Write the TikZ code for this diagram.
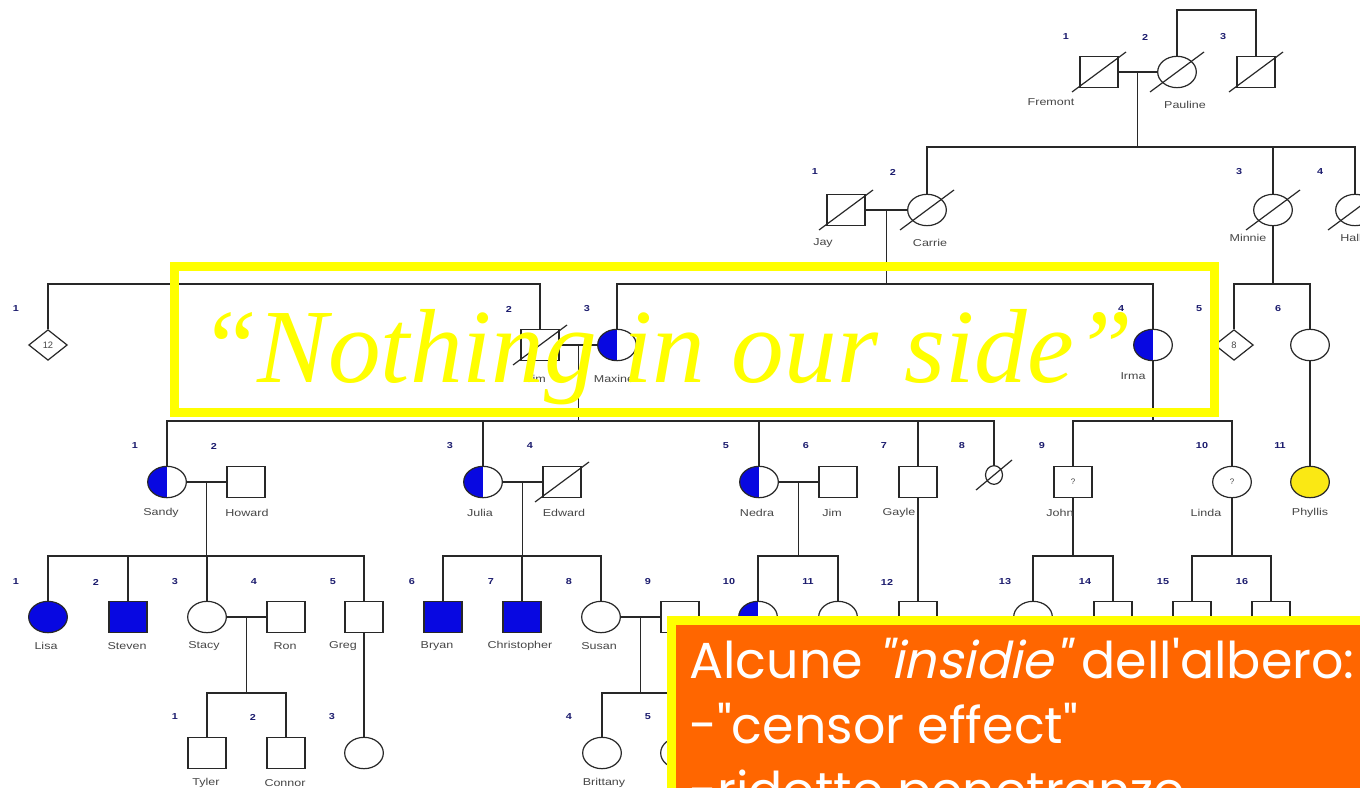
\documentclass[tikz,border=0pt]{standalone}
\usepackage{fontspec}
\setmainfont{Liberation Sans}
\newfontfamily\serifit{Liberation Serif}
\newfontfamily\boxfont{Poppins}[ItalicFont=Poppins, ItalicFeatures={FakeSlant=0.22}]
\usetikzlibrary{shapes.geometric}

\definecolor{linec}{RGB}{40,40,40}
\definecolor{pedblue}{RGB}{8,8,225}
\definecolor{lblc}{RGB}{70,70,70}
\definecolor{numc}{RGB}{28,28,110}
\definecolor{phyl}{RGB}{250,232,20}
\definecolor{hiyel}{RGB}{255,255,0}
\definecolor{boxor}{RGB}{255,102,0}

% horizontally widened text, as in the printed pedigree
\newcommand\wide[1]{\scalebox{1.25}[1]{#1}}
% diagonal stroke through a deceased individual
\newcommand\deceased[3]{\draw[link] ([shift={(-#2,#3)}]#1.center) -- ([shift={(#2,-#3)}]#1.center);}

\begin{document}
\begin{tikzpicture}[x=0.75pt,y=-0.75pt,
  link/.style={draw=linec, line width=0.9pt},
  ped/.style={draw=linec, line width=0.9pt, fill=white, inner sep=0pt},
  male/.style={ped, rectangle, minimum width=28.5pt, minimum height=23.25pt},
  female/.style={ped, ellipse, minimum width=29pt, minimum height=23.5pt},
  sexunk/.style={ped, diamond, minimum width=29pt, minimum height=23pt, font=\fontsize{7}{7}\selectfont, text=lblc},
  affected/.style={fill=pedblue},
  carrier/.style={path picture={\fill[pedblue] (path picture bounding box.north west) rectangle (path picture bounding box.south);}},
  query/.style={font=\fontsize{6}{6}\selectfont, text=lblc},
  num/.style={font=\bfseries\fontsize{6.5}{7}\selectfont, text=numc, inner sep=0pt},
  lbl/.style={font=\fontsize{7.5}{8}\selectfont, text=lblc, inner sep=0pt},
  notetext/.style={anchor=base west, text=white, inner sep=0pt, font=\boxfont\fontsize{38}{38}\selectfont},
]
\useasboundingbox (0,0) rectangle (1360,788);
\fill[white] (0,0) rectangle (1360,788);

% generation levels of the sibship lines
\coordinate (R1) at (0,10);
\coordinate (R2) at (0,147);
\coordinate (R3) at (0,284);
\coordinate (R4) at (0,421);
\coordinate (R5) at (0,556);
\coordinate (R6) at (0,693);

% ---------------- generation I
\node[male]   (I1) at (1099,72) {};
\node[female] (I2) at (1177,72) {};
\node[male]   (I3) at (1256,72) {};
\deceased{I1}{27}{20}
\deceased{I2}{27}{20}
\deceased{I3}{27}{20}
\draw[link] (I1.east) -- coordinate (m1) (I2.west);
\draw[link] (I2.north) -- (I2.north |- R1) -| (I3.north);
\draw[link] (m1) -- (m1 |- R2);
\node[num] (nI1) at (1066,37) {\wide{1}};
\node[num] (nI2) at (1145,37) {\wide{2}};
\node[num] (nI3) at (1223,37) {\wide{3}};
\node[lbl] (tI1) at (1051,102) {\wide{Fremont}};
\node[lbl] (tI2) at (1185,105) {\wide{Pauline}};

% ---------------- generation II
\node[male]   (II1) at (846,210) {};
\node[female] (II2) at (927,210) {};
\node[female] (II3) at (1273,210) {};
\node[female] (II4) at (1355,210) {};
\deceased{II1}{27}{20}
\deceased{II2}{27}{20}
\deceased{II3}{27}{20}
\deceased{II4}{27}{20}
\draw[link] (II2.north) -- (II2.north |- R2) -| (II4.north);
\draw[link] (II3.north) -- (II3.north |- R2);
\draw[link] (II1.east) -- coordinate (m2) (II2.west);
\draw[link] (m2) -- (m2 |- R3);
\draw[link] (II3.south) -- (II3.south |- R3);
\node[num] (nII1) at (815,172) {\wide{1}};
\node[num] (nII2) at (893,172) {\wide{2}};
\node[num] (nII3) at (1239,172) {\wide{3}};
\node[num] (nII4) at (1320,172) {\wide{4}};
\node[lbl] (tII1) at (823,243) {\wide{Jay}};
\node[lbl] (tII2) at (930,243) {\wide{Carrie}};
\node[lbl] (tII3) at (1248,238) {\wide{Minnie}};
\node[lbl] (tII4) at (1356,238) {\wide{Hallie}};

% ---------------- generation III
\node[sexunk] (III1) at (48,345) {12};
\node[male]   (III2) at (540,345) {};
\node[female, carrier] (III3) at (617,345) {};
\node[female, carrier] (III4) at (1153,345) {};
\node[sexunk] (III5) at (1234,345) {8};
\node[female] (III6) at (1310,345) {};
\deceased{III2}{27}{20}
\draw[link] (III1.north) -- (III1.north |- R3) -| (III2.north);
\draw[link] (III3.north) -- (III3.north |- R3) -| (III4.north);
\draw[link] (III5.north) -- (III5.north |- R3) -| (III6.north);
\draw[link] (III2.east) -- coordinate (m3) (III3.west);
\draw[link] (m3) -- (m3 |- R4);
\draw[link] (III4.south) -- (III4.south |- R4);
\node[num] (nIII1) at (16,309) {\wide{1}};
\node[num] (nIII2) at (509,309) {\wide{2}};
\node[num] (nIII3) at (587,309) {\wide{3}};
\node[num] (nIII4) at (1121,309) {\wide{4}};
\node[num] (nIII5) at (1199,309) {\wide{5}};
\node[num] (nIII6) at (1278,309) {\wide{6}};
\node[lbl] (tIII2) at (536,379) {\wide{Jim}};
\node[lbl] (tIII3) at (614,379) {\wide{Maxine}};
\node[lbl] (tIII4) at (1133,376) {\wide{Irma}};

% ---------------- generation IV
\node[female, carrier] (IV1) at (167,482) {};
\node[male]   (IV2) at (246,482) {};
\node[female, carrier] (IV3) at (483,482) {};
\node[male]   (IV4) at (562,482) {};
\node[female, carrier] (IV5) at (759,482) {};
\node[male]   (IV6) at (838,482) {};
\node[male]   (IV7) at (918,482) {};
\node[female, minimum width=12.75pt, minimum height=14pt] (IV8) at (994,475) {};
\node[male, query] (IV9) at (1073,482) {?};
\node[female, query] (IV10) at (1232,482) {?};
\node[female, fill=phyl] (IV11) at (1310,482) {};
\deceased{IV4}{27}{20}
\deceased{IV8}{18}{15}
\draw[link] (IV1.north) -- (IV1.north |- R4) -| (IV8.north);
\draw[link] (IV3.north) -- (IV3.north |- R4);
\draw[link] (IV5.north) -- (IV5.north |- R4);
\draw[link] (IV7.north) -- (IV7.north |- R4);
\draw[link] (IV9.north) -- (IV9.north |- R4) -| (IV10.north);
\draw[link] (III6.south) -- (IV11.north);
\draw[link] (IV1.east) -- coordinate (m4a) (IV2.west);
\draw[link] (IV3.east) -- coordinate (m4b) (IV4.west);
\draw[link] (IV5.east) -- coordinate (m4c) (IV6.west);
\draw[link] (m4a) -- (m4a |- R5);
\draw[link] (m4b) -- (m4b |- R5);
\draw[link] (m4c) -- (m4c |- R5);
\draw[link] (IV9.south) -- (IV9.south |- R5);
\draw[link] (IV10.south) -- (IV10.south |- R5);
\node[num] (nIV1) at (135,446) {\wide{1}};
\node[num] (nIV2) at (214,446) {\wide{2}};
\node[num] (nIV3) at (450,446) {\wide{3}};
\node[num] (nIV4) at (530,446) {\wide{4}};
\node[num] (nIV5) at (726,446) {\wide{5}};
\node[num] (nIV6) at (806,446) {\wide{6}};
\node[num] (nIV7) at (884,446) {\wide{7}};
\node[num] (nIV8) at (962,446) {\wide{8}};
\node[num] (nIV9) at (1042,446) {\wide{9}};
\node[num] (nIV10) at (1202,446) {\wide{10}};
\node[num] (nIV11) at (1280,446) {\wide{11}};
\node[lbl] (tIV1) at (161,513) {\wide{Sandy}};
\node[lbl] (tIV2) at (247,513) {\wide{Howard}};
\node[lbl] (tIV3) at (480,513) {\wide{Julia}};
\node[lbl] (tIV4) at (564,513) {\wide{Edward}};
\node[lbl] (tIV5) at (757,513) {\wide{Nedra}};
\node[lbl] (tIV6) at (832,513) {\wide{Jim}};
\node[lbl] (tIV7) at (899,513) {\wide{Gayle}};
\node[lbl] (tIV9) at (1060,513) {\wide{John}};
\node[lbl] (tIV10) at (1206,513) {\wide{Linda}};
\node[lbl] (tIV11) at (1310,513) {\wide{Phyllis}};

% ---------------- generation V
\node[female, affected] (V1) at (48,617) {};
\node[male, affected]   (V2) at (128,617) {};
\node[female] (V3) at (207,617) {};
\node[male]   (V4) at (286,617) {};
\node[male]   (V5) at (364,617) {};
\node[male, affected] (V6) at (443,617) {};
\node[male, affected] (V7) at (522,617) {};
\node[female] (V8) at (601,617) {};
\node[male]   (V9) at (680,617) {};
\node[female, carrier] (V10) at (758,617) {};
\node[female] (V11) at (838,617) {};
\node[male]   (V12) at (918,617) {};
\node[female] (V13) at (1033,617) {};
\node[male]   (V14) at (1113,617) {};
\node[male]   (V15) at (1192,617) {};
\node[male]   (V16) at (1271,617) {};
\draw[link] (V1.north) -- (V1.north |- R5) -| (V5.north);
\draw[link] (V2.north) -- (V2.north |- R5);
\draw[link] (V3.north) -- (V3.north |- R5);
\draw[link] (V6.north) -- (V6.north |- R5) -| (V8.north);
\draw[link] (V7.north) -- (V7.north |- R5);
\draw[link] (V10.north) -- (V10.north |- R5) -| (V11.north);
\draw[link] (IV7.south) -- (V12.north);
\draw[link] (V13.north) -- (V13.north |- R5) -| (V14.north);
\draw[link] (V15.north) -- (V15.north |- R5) -| (V16.north);
\draw[link] (V3.east) -- coordinate (m5a) (V4.west);
\draw[link] (V8.east) -- coordinate (m5b) (V9.west);
\draw[link] (m5a) -- (m5a |- R6);
\draw[link] (m5b) -- (m5b |- R6);
\node[num] (nV1) at (16,582) {\wide{1}};
\node[num] (nV2) at (96,582) {\wide{2}};
\node[num] (nV3) at (175,582) {\wide{3}};
\node[num] (nV4) at (254,582) {\wide{4}};
\node[num] (nV5) at (333,582) {\wide{5}};
\node[num] (nV6) at (412,582) {\wide{6}};
\node[num] (nV7) at (491,582) {\wide{7}};
\node[num] (nV8) at (569,582) {\wide{8}};
\node[num] (nV9) at (648,582) {\wide{9}};
\node[num] (nV10) at (729,582) {\wide{10}};
\node[num] (nV11) at (808,582) {\wide{11}};
\node[num] (nV12) at (887,582) {\wide{12}};
\node[num] (nV13) at (1005,582) {\wide{13}};
\node[num] (nV14) at (1085,582) {\wide{14}};
\node[num] (nV15) at (1163,582) {\wide{15}};
\node[num] (nV16) at (1242,582) {\wide{16}};
\node[lbl] (tV1) at (46,646) {\wide{Lisa}};
\node[lbl] (tV2) at (127,646) {\wide{Steven}};
\node[lbl] (tV3) at (204,646) {\wide{Stacy}};
\node[lbl] (tV4) at (285,646) {\wide{Ron}};
\node[lbl] (tV5) at (343,646) {\wide{Greg}};
\node[lbl] (tV6) at (437,646) {\wide{Bryan}};
\node[lbl] (tV7) at (520,646) {\wide{Christopher}};
\node[lbl] (tV8) at (599,646) {\wide{Susan}};

% ---------------- generation VI
\node[male]   (VI1) at (207,753) {};
\node[male]   (VI2) at (286,753) {};
\node[female] (VI3) at (364,753) {};
\node[female] (VI4) at (602,753) {};
\node[female] (VI5) at (680,753) {};
\draw[link] (VI1.north) -- (VI1.north |- R6) -| (VI2.north);
\draw[link] (V5.south) -- (VI3.north);
\draw[link] (VI4.north) -- (VI4.north |- R6) -| (VI5.north);
\node[num] (nVI1) at (175,717) {\wide{1}};
\node[num] (nVI2) at (253,717) {\wide{2}};
\node[num] (nVI3) at (332,717) {\wide{3}};
\node[num] (nVI4) at (569,717) {\wide{4}};
\node[num] (nVI5) at (648,717) {\wide{5}};
\node[lbl] (tVI1) at (206,783) {\wide{Tyler}};
\node[lbl] (tVI2) at (285,783) {\wide{Connor}};
\node[lbl] (tVI4) at (604,783) {\wide{Brittany}};

% ---------------- highlighted caption over the pedigree
\node[draw=hiyel, line width=6.75pt, minimum width=780pt, minimum height=109.5pt, inner sep=0pt] (frame) at (694,339) {};
\node[anchor=base, text=hiyel, inner sep=0pt, font=\serifit\itshape\fontsize{79}{79}\selectfont] (caption) at (666,382) {“Nothing in our side”};

% ---------------- orange note box
\begin{scope}
\clip (0,0) rectangle (1360,788);
\node[fill=boxor, draw=hiyel, line width=6.75pt, anchor=north west, minimum width=560pt, minimum height=180pt, inner sep=0pt] (note) at (666.5,615.5) {};
\node[notetext] (noteA) at (689,678) {Alcune \textit{"insidie"} dell'albero:};
\node[notetext] (noteB) at (689,743) {-"censor effect"};
\node[notetext] (noteC) at (689,808) {-ridotte penetranze};
\end{scope}
\end{tikzpicture}
\end{document}
